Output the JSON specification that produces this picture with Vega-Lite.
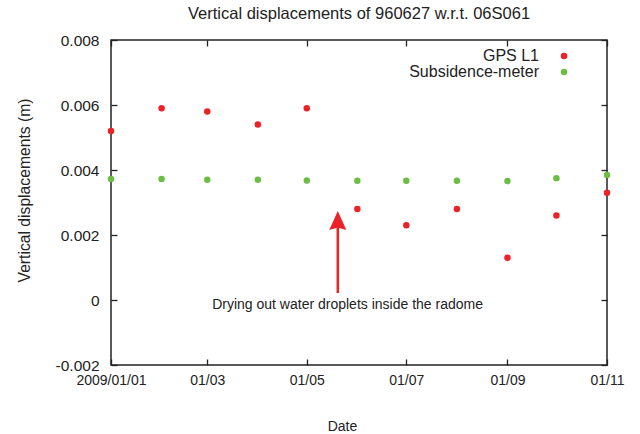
{
  "$schema": "https://vega.github.io/schema/vega-lite/v6.json",
  "width": 496,
  "height": 325,
  "autosize": {"type": "none"},
  "padding": {"left": 111, "top": 40, "right": 33, "bottom": 69},
  "background": "white",
  "config": {
    "font": "Liberation Sans",
    "view": {"stroke": "#222", "strokeWidth": 1.5},
    "axis": {
      "domain": false, "grid": false, "tickColor": "#222", "tickSize": -6, "tickWidth": 1.3,
      "labelFont": "Liberation Sans", "labelFontSize": 14, "labelColor": "#222",
      "titleFont": "Liberation Sans", "titleFontSize": 14, "titleFontWeight": "normal", "titleColor": "#222"
    },
    "legend": {
      "orient": "none", "legendX": 445, "legendY": 8, "labelAlign": "right", "labelOffset": -33,
      "labelFontSize": 16, "labelFont": "Liberation Sans", "labelColor": "#222",
      "symbolSize": 42, "rowPadding": -7, "padding": 0
    }
  },
  "title": {"text": "Vertical displacements of 960627 w.r.t. 06S061", "fontSize": 16.5, "fontWeight": "normal", "font": "Liberation Sans", "color": "#222", "offset": 11},
  "datasets": {
    "main": [
      {"date": "2009-01-01", "value": 0.0052, "series": "GPS L1"},
      {"date": "2009-02-01", "value": 0.0059, "series": "GPS L1"},
      {"date": "2009-03-01", "value": 0.0058, "series": "GPS L1"},
      {"date": "2009-04-01", "value": 0.0054, "series": "GPS L1"},
      {"date": "2009-05-01", "value": 0.0059, "series": "GPS L1"},
      {"date": "2009-06-01", "value": 0.0028, "series": "GPS L1"},
      {"date": "2009-07-01", "value": 0.0023, "series": "GPS L1"},
      {"date": "2009-08-01", "value": 0.0028, "series": "GPS L1"},
      {"date": "2009-09-01", "value": 0.0013, "series": "GPS L1"},
      {"date": "2009-10-01", "value": 0.0026, "series": "GPS L1"},
      {"date": "2009-11-01", "value": 0.0033, "series": "GPS L1"},
      {"date": "2009-01-01", "value": 0.00372, "series": "Subsidence-meter"},
      {"date": "2009-02-01", "value": 0.00372, "series": "Subsidence-meter"},
      {"date": "2009-03-01", "value": 0.0037, "series": "Subsidence-meter"},
      {"date": "2009-04-01", "value": 0.0037, "series": "Subsidence-meter"},
      {"date": "2009-05-01", "value": 0.00368, "series": "Subsidence-meter"},
      {"date": "2009-06-01", "value": 0.00367, "series": "Subsidence-meter"},
      {"date": "2009-07-01", "value": 0.00367, "series": "Subsidence-meter"},
      {"date": "2009-08-01", "value": 0.00367, "series": "Subsidence-meter"},
      {"date": "2009-09-01", "value": 0.00366, "series": "Subsidence-meter"},
      {"date": "2009-10-01", "value": 0.00375, "series": "Subsidence-meter"},
      {"date": "2009-11-01", "value": 0.00385, "series": "Subsidence-meter"}
    ],
    "arrow": [{"date": "2009-05-20", "value": 0.000215, "value2": 0.0025}],
    "head": [{"date": "2009-05-20", "value": 0.00245}],
    "note": [{"date": "2009-05-26", "value": -0.00015, "text": "Drying out water droplets inside the radome"}]
  },
  "layer": [
    {
      "data": {"name": "main"},
      "mark": {"type": "point", "filled": true, "size": 42, "opacity": 1},
      "encoding": {
        "x": {"field": "date", "type": "temporal",
          "scale": {"type": "utc", "domain": [{"year": 2009, "month": 1, "date": 1, "utc": true}, {"year": 2009, "month": 11, "date": 1, "utc": true}]},
          "axis": {"orient": "bottom", "title": "Date", "titlePadding": 32, "titleX": 231,
            "values": [{"year": 2009, "month": 1, "date": 1, "utc": true}, {"year": 2009, "month": 3, "date": 1, "utc": true}, {"year": 2009, "month": 5, "date": 1, "utc": true}, {"year": 2009, "month": 7, "date": 1, "utc": true}, {"year": 2009, "month": 9, "date": 1, "utc": true}, {"year": 2009, "month": 11, "date": 1, "utc": true}],
            "labelExpr": "datum.index == 0 ? '2009/01/01' : utcFormat(datum.value, '%d/%m')",
            "labelPadding": 14, "labelFlush": false, "labelOverlap": false}},
        "y": {"field": "value", "type": "quantitative",
          "scale": {"domain": [-0.002, 0.008], "nice": false, "zero": false},
          "axis": {"orient": "left", "title": "Vertical displacements (m)", "values": [-0.002, 0, 0.002, 0.004, 0.006, 0.008],
            "labelExpr": "datum.value == 0 ? '0' : (datum.value < 0 ? '-' + format(-datum.value, '.3f') : format(datum.value, '.3f'))",
            "labelFontSize": 15.5, "labelPadding": 18, "titleFontSize": 15.7, "titleX": -87, "titleY": 150, "titleBaseline": "middle", "titleAlign": "center"}},
        "color": {"field": "series", "type": "nominal",
          "scale": {"domain": ["GPS L1", "Subsidence-meter"], "range": ["#ec2227", "#6bbd45"]},
          "legend": {"title": null}}
      }
    },
    {
      "data": {"name": "main"},
      "mark": {"type": "point", "opacity": 0},
      "encoding": {
        "x": {"field": "date", "type": "temporal",
          "scale": {"type": "utc", "domain": [{"year": 2009, "month": 1, "date": 1, "utc": true}, {"year": 2009, "month": 11, "date": 1, "utc": true}]},
          "axis": {"orient": "top", "title": null, "labels": false,
            "values": [{"year": 2009, "month": 1, "date": 1, "utc": true}, {"year": 2009, "month": 3, "date": 1, "utc": true}, {"year": 2009, "month": 5, "date": 1, "utc": true}, {"year": 2009, "month": 7, "date": 1, "utc": true}, {"year": 2009, "month": 9, "date": 1, "utc": true}, {"year": 2009, "month": 11, "date": 1, "utc": true}]}},
        "y": {"field": "value", "type": "quantitative",
          "scale": {"domain": [-0.002, 0.008], "nice": false, "zero": false},
          "axis": {"orient": "right", "title": null, "labels": false, "values": [-0.002, 0, 0.002, 0.004, 0.006, 0.008]}}
      }
    },
    {
      "data": {"name": "arrow"},
      "mark": {"type": "rule", "color": "#ec2227", "strokeWidth": 2.5},
      "encoding": {
        "x": {"field": "date", "type": "temporal", "axis": null},
        "y": {"field": "value", "type": "quantitative", "axis": null},
        "y2": {"field": "value2"}
      }
    },
    {
      "data": {"name": "head"},
      "mark": {"type": "point", "filled": true, "opacity": 1, "color": "#ec2227", "size": 361, "shape": "M0,-1L0.9,1L0,0.75L-0.9,1Z"},
      "encoding": {
        "x": {"field": "date", "type": "temporal", "axis": null},
        "y": {"field": "value", "type": "quantitative", "axis": null}
      }
    },
    {
      "data": {"name": "note"},
      "mark": {"type": "text", "fontSize": 14, "font": "Liberation Sans", "color": "#222", "align": "center", "baseline": "middle"},
      "encoding": {
        "x": {"field": "date", "type": "temporal", "axis": null},
        "y": {"field": "value", "type": "quantitative", "axis": null},
        "text": {"field": "text"}
      }
    }
  ],
  "resolve": {"axis": {"x": "independent", "y": "independent"}}
}
